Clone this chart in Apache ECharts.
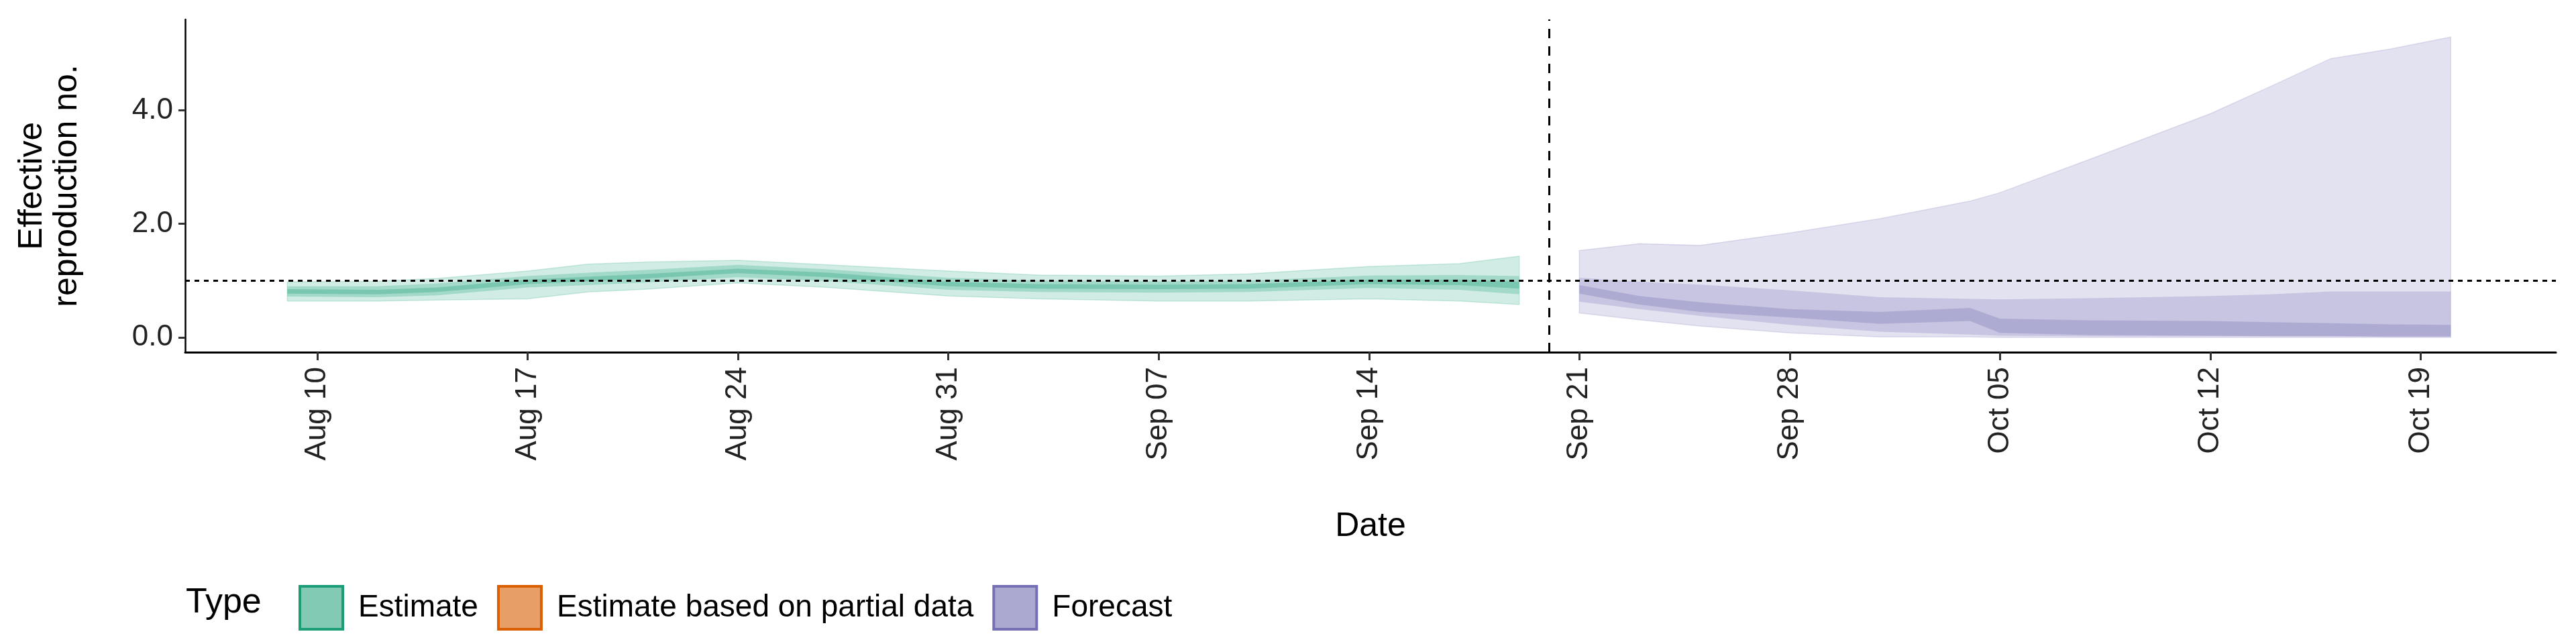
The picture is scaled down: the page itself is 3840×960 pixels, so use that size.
<!DOCTYPE html>
<html>
<head>
<meta charset="utf-8">
<script src="https://cdn.jsdelivr.net/npm/echarts@6/dist/echarts.min.js"></script>
<style>html,body{margin:0;padding:0;background:#fff}#main{width:3840px;height:960px}</style>
</head>
<body>
<div id="main"></div>
<script>
// estimate period
var estDates = ['2020-08-09','2020-08-12','2020-08-14','2020-08-17','2020-08-19','2020-08-21','2020-08-24','2020-08-27','2020-08-31','2020-09-03','2020-09-07','2020-09-10','2020-09-14','2020-09-17','2020-09-19'];
var estOuterHi = [0.98,0.99,1.04,1.17,1.29,1.33,1.36,1.28,1.17,1.10,1.08,1.12,1.25,1.30,1.43];
var estOuterLo = [0.64,0.64,0.66,0.68,0.80,0.85,0.96,0.88,0.73,0.68,0.64,0.64,0.68,0.64,0.58];
var estMidHi   = [0.90,0.90,0.95,1.08,1.14,1.19,1.28,1.20,1.05,1.00,0.99,1.00,1.09,1.10,1.08];
var estMidLo   = [0.72,0.71,0.74,0.88,0.92,0.97,1.06,0.99,0.84,0.80,0.79,0.80,0.87,0.84,0.76];
var estInHi    = [0.85,0.84,0.88,1.02,1.07,1.12,1.21,1.14,0.98,0.94,0.93,0.94,1.02,1.02,0.98];
var estInLo    = [0.77,0.76,0.80,0.94,0.99,1.04,1.13,1.06,0.90,0.86,0.85,0.86,0.94,0.92,0.86];

// forecast period
var fcDates = ['2020-09-21','2020-09-23','2020-09-25','2020-09-28','2020-10-01','2020-10-04','2020-10-05','2020-10-08','2020-10-12','2020-10-14','2020-10-16','2020-10-18','2020-10-20'];
var fcOuterHi = [1.53,1.65,1.62,1.84,2.09,2.40,2.55,3.14,3.94,4.42,4.91,5.08,5.29];
var fcOuterLo = [0.43,0.31,0.20,0.08,0.01,0.01,0.00,0.00,0.00,0.00,0.00,0.00,0.00];
var fcMidHi   = [1.05,0.98,0.93,0.83,0.71,0.68,0.67,0.69,0.73,0.76,0.81,0.81,0.81];
var fcMidLo   = [0.63,0.50,0.38,0.22,0.10,0.05,0.03,0.02,0.02,0.02,0.02,0.02,0.02];
var fcInHi    = [0.92,0.73,0.62,0.50,0.45,0.52,0.33,0.30,0.29,0.27,0.25,0.23,0.22];
var fcInLo    = [0.77,0.58,0.45,0.35,0.24,0.29,0.08,0.04,0.03,0.02,0.02,0.01,0.01];

var tickDates = ['2020-08-10','2020-08-17','2020-08-24','2020-08-31','2020-09-07','2020-09-14','2020-09-21','2020-09-28','2020-10-05','2020-10-12','2020-10-19'];
var forecastStart = '2020-09-20';
var months = ['Jan','Feb','Mar','Apr','May','Jun','Jul','Aug','Sep','Oct','Nov','Dec'];

var base = Date.UTC(2020, 7, 1);
function day(s) { return (Date.parse(s + 'T00:00:00Z') - base) / 86400000; }
function label(d) {
  var t = new Date(base + Math.round(d) * 86400000);
  var dd = t.getUTCDate();
  return months[t.getUTCMonth()] + ' ' + (dd < 10 ? '0' + dd : dd);
}

var font = 'Liberation Sans, Arial, sans-serif';
var green = '#1b9e77', orange = '#d95f02', purple = '#7570b3';
var series = [];

// ribbon: polygon from lower edge to upper edge, positioned with api.coord
function band(name, dates, lo, hi, color, alpha, edge) {
  var data = dates.map(function (s, i) { return [day(s), lo[i], hi[i]]; });
  series.push({
    type: 'custom', name: name, silent: true,
    data: data,
    encode: { x: 0, y: [1, 2] },
    renderItem: function (params, api) {
      if (params.dataIndex !== 0) return;
      var pts = [];
      data.forEach(function (d) { pts.push(api.coord([d[0], d[2]])); });
      for (var i = data.length - 1; i >= 0; i--) pts.push(api.coord([data[i][0], data[i][1]]));
      return {
        type: 'polygon',
        shape: { points: pts },
        style: { fill: color, opacity: alpha, stroke: edge ? color : null, lineWidth: edge ? 1.5 : 0 }
      };
    }
  });
}
band('Estimate', estDates, estOuterLo, estOuterHi, green, 0.2, true);
band('Estimate', estDates, estMidLo, estMidHi, green, 0.25, false);
band('Estimate', estDates, estInLo, estInHi, green, 0.3, false);
band('Forecast', fcDates, fcOuterLo, fcOuterHi, purple, 0.2, true);
band('Forecast', fcDates, fcMidLo, fcMidHi, purple, 0.25, false);
band('Forecast', fcDates, fcInLo, fcInHi, purple, 0.3, false);
series.push({ type: 'line', name: 'Estimate based on partial data', data: [] });
series.push({
  type: 'line', data: [], silent: true,
  markLine: {
    symbol: 'none', silent: true, label: { show: false },
    data: [
      { yAxis: 1, lineStyle: { type: [7, 7], width: 3, color: '#000' } },
      { xAxis: day(forecastStart), lineStyle: { type: [14, 12], width: 3, color: '#000' } }
    ]
  }
});

var chart = echarts.init(document.getElementById('main'));
chart.setOption({
  animation: false,
  textStyle: { fontFamily: font },
  grid: { left: 276, right: 30, top: 29, bottom: 435 },
  xAxis: {
    type: 'value', min: 4.6, max: 83.5,
    name: 'Date', nameLocation: 'middle', nameGap: 235,
    nameTextStyle: { fontSize: 50, color: '#000' },
    axisLine: { onZero: false, lineStyle: { color: '#000', width: 3 } },
    axisTick: { show: true, length: 12, lineStyle: { color: '#333', width: 3 }, customValues: tickDates.map(day) },
    axisLabel: { rotate: 90, fontSize: 44, color: '#222', margin: 22, customValues: tickDates.map(day), formatter: label },
    splitLine: { show: false }
  },
  yAxis: {
    type: 'value', min: -0.26, max: 5.6,
    name: 'Effective\nreproduction no.', nameLocation: 'middle', nameGap: 150,
    nameTextStyle: { fontSize: 50, color: '#000', lineHeight: 52 },
    axisLine: { show: true, lineStyle: { color: '#000', width: 2.5 } },
    axisTick: { show: true, length: 10, lineStyle: { color: '#333', width: 3 }, customValues: [0, 2, 4] },
    axisLabel: { fontSize: 44, color: '#222', margin: 18, customValues: [0, 2, 4], formatter: function (v) { return v.toFixed(1); } },
    splitLine: { show: false }
  },
  legend: {
    left: 440, top: 867, itemWidth: 64, itemHeight: 64, itemGap: 28,
    textStyle: { fontSize: 46, color: '#000', padding: [0, 0, 0, 18] },
    data: [
      { name: 'Estimate', icon: 'rect', itemStyle: { color: 'rgba(27,158,119,0.55)', borderColor: green, borderWidth: 4 } },
      { name: 'Estimate based on partial data', icon: 'rect', itemStyle: { color: 'rgba(217,95,2,0.6)', borderColor: orange, borderWidth: 4 } },
      { name: 'Forecast', icon: 'rect', itemStyle: { color: 'rgba(117,112,179,0.6)', borderColor: purple, borderWidth: 4 } }
    ],
    selectedMode: false
  },
  graphic: [{ type: 'text', left: 277, top: 873, style: { text: 'Type', fontSize: 52, fill: '#000', fontFamily: font } }],
  series: series
});
</script>
</body>
</html>
